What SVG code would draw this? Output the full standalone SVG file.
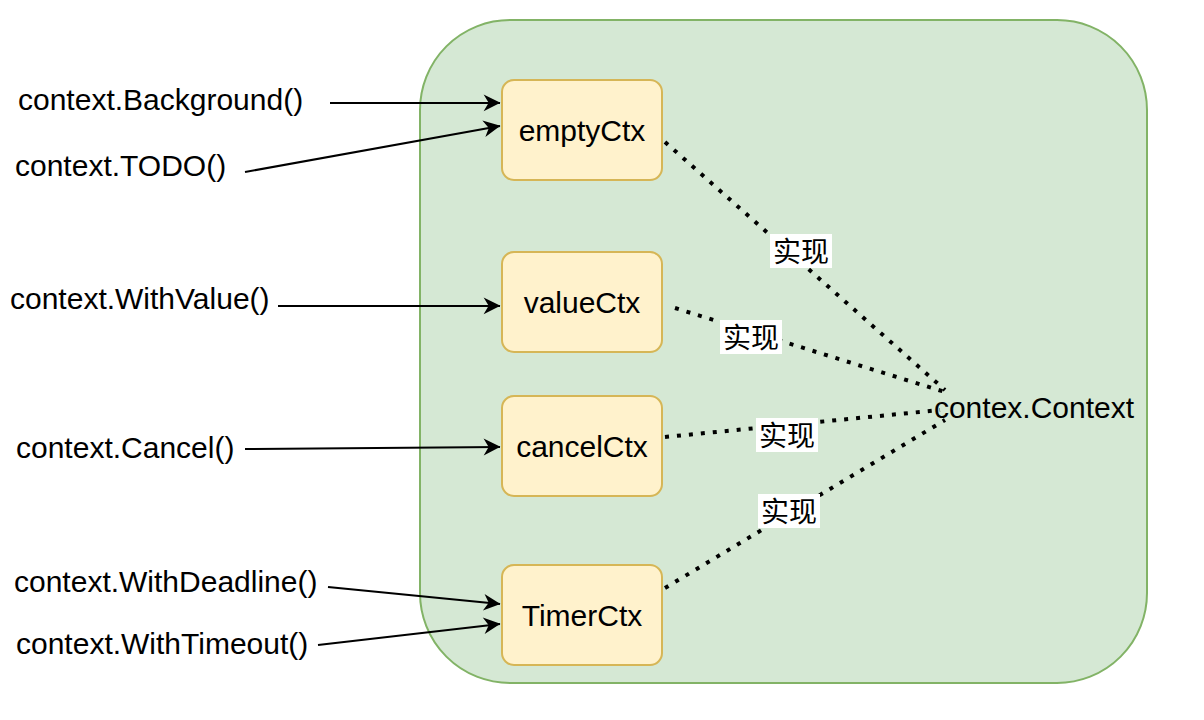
<svg xmlns="http://www.w3.org/2000/svg" width="1204" height="720" viewBox="0 0 1204 720">
<defs>
<style>
text{font-family:"Liberation Sans",Arial,"Noto Sans CJK SC",sans-serif;font-size:30px;fill:#000}
.cjk{font-size:28px}
.node{fill:#fff2cc;stroke:#d6b656;stroke-width:2}
.arr{stroke:#000;stroke-width:2;fill:none;marker-end:url(#ah)}
.dot{stroke:#000;stroke-width:4;stroke-dasharray:4 8;fill:none}
.lbl{fill:#fff}
</style>
<marker id="ah" viewBox="0 0 10 10" refX="9" refY="5" markerWidth="7" markerHeight="7" orient="auto" markerUnits="userSpaceOnUse" overflow="visible">
<path d="M0,0 L10,5 L0,10 L3,5 Z" fill="#000" transform="scale(2.4) translate(-6,-3)"/>
</marker>
</defs>
<rect width="1204" height="720" fill="#fff"/>
<g id="container"><rect x="420" y="20" width="727" height="663" rx="90" fill="#d5e8d4" stroke="#82b366" stroke-width="2"/>
<text x="1034" y="418" text-anchor="middle">contex.Context</text></g>
<g id="connectors">
<path class="dot" d="M665,142 L945,390"/>
<path class="dot" d="M675,308 L945,392"/>
<path class="dot" d="M665,437 L940,410"/>
<path class="dot" d="M665,588 L945,420"/>
<rect class="lbl" x="770" y="234" width="62" height="34"/><text class="cjk" x="801" y="262" text-anchor="middle">实现</text>
<rect class="lbl" x="720" y="320" width="62" height="34"/><text class="cjk" x="751" y="348" text-anchor="middle">实现</text>
<rect class="lbl" x="756" y="418" width="62" height="34"/><text class="cjk" x="787" y="446" text-anchor="middle">实现</text>
<rect class="lbl" x="758" y="494" width="62" height="34"/><text class="cjk" x="789" y="522" text-anchor="middle">实现</text>
<path class="arr" d="M330,103 L500,103"/>
<path class="arr" d="M245,172 L500,126"/>
<path class="arr" d="M278,306 L500,306"/>
<path class="arr" d="M245,449 L500,447"/>
<path class="arr" d="M328,587 L500,604"/>
<path class="arr" d="M318,645 L500,624"/>
</g>
<g id="emptyCtx"><rect class="node" x="502" y="80" width="160" height="100" rx="12"/><text x="582" y="141" text-anchor="middle">emptyCtx</text></g>
<g id="valueCtx"><rect class="node" x="502" y="252" width="160" height="100" rx="12"/><text x="582" y="313" text-anchor="middle">valueCtx</text></g>
<g id="cancelCtx"><rect class="node" x="502" y="396" width="160" height="100" rx="12"/><text x="582" y="457" text-anchor="middle">cancelCtx</text></g>
<g id="TimerCtx"><rect class="node" x="502" y="565" width="160" height="100" rx="12"/><text x="582" y="626" text-anchor="middle">TimerCtx</text></g>
<g id="labels">
<text x="18" y="110">context.Background()</text>
<text x="15" y="176">context.TODO()</text>
<text x="10" y="309">context.WithValue()</text>
<text x="16" y="458">context.Cancel()</text>
<text x="14" y="592">context.WithDeadline()</text>
<text x="16" y="654">context.WithTimeout()</text>
</g>
</svg>
